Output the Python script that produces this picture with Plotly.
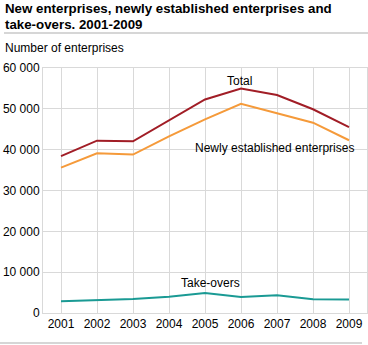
import plotly.graph_objects as go

years = [2001, 2002, 2003, 2004, 2005, 2006, 2007, 2008, 2009]
total = [38400, 42200, 42050, 47200, 52300, 55000, 53400, 49900, 45500]
newly = [35600, 39100, 38800, 43250, 47400, 51250, 48900, 46600, 42300]
takeovers = [2900, 3200, 3400, 4000, 4900, 3900, 4350, 3350, 3300]
y_ticks = [0, 10000, 20000, 30000, 40000, 50000, 60000]
y_tick_labels = ["0", "10 000", "20 000", "30 000", "40 000", "50 000", "60 000"]

W, H = 368, 345
L, R, T, B = 43, 1, 68, 32
pw, ph = W - L - R, H - T - B

def px(x):
    return (x - L) / pw

def py(y):
    return (H - B - y) / ph

FONT = "Liberation Sans, Arial, sans-serif"

fig = go.Figure()
fig.add_trace(go.Scatter(x=years, y=total, mode="lines", line=dict(color="#a11d26", width=2), name="Total"))
fig.add_trace(go.Scatter(x=years, y=newly, mode="lines", line=dict(color="#f59a3a", width=2), name="Newly established enterprises"))
fig.add_trace(go.Scatter(x=years, y=takeovers, mode="lines", line=dict(color="#1a9a94", width=2), name="Take-overs"))

annots = [
    dict(text="<b>New enterprises, newly established enterprises and</b>", x=px(3), y=py(-1), size=13.3),
    dict(text="<b>take-overs. 2001-2009</b>", x=px(3), y=py(15), size=13.3),
    dict(text="Number of enterprises", x=px(3), y=py(39), size=12),
]
for a in annots:
    fig.add_annotation(text=a["text"], x=a["x"], y=a["y"], xref="paper", yref="paper",
                       xanchor="left", yanchor="top", showarrow=False,
                       font=dict(family=FONT, size=a["size"], color="#000000"))

labels = [("Total", 2005.95, 56900),
          ("Newly established enterprises", 2006.92, 40400),
          ("Take-overs", 2005.15, 7350)]
for t, x, y in labels:
    fig.add_annotation(text=t, x=x, y=y, xref="x", yref="y", showarrow=False,
                       xanchor="center", yanchor="middle",
                       font=dict(family=FONT, size=12, color="#000000"))

fig.add_shape(type="line", xref="paper", yref="paper", x0=px(4), x1=px(368), y0=py(33), y1=py(33),
              line=dict(color="#c8c8c8", width=1.5))
fig.add_shape(type="line", xref="paper", yref="paper", x0=px(0), x1=px(362), y0=py(343), y1=py(343),
              line=dict(color="#c8c8c8", width=1.5))

fig.update_layout(
    width=W, height=H,
    margin=dict(l=L, r=R, t=T, b=B, pad=0),
    paper_bgcolor="#ffffff", plot_bgcolor="#ffffff",
    showlegend=False,
    font=dict(family=FONT, size=12, color="#000000"),
    xaxis=dict(range=[2000.5, 2009.5], tickvals=years, ticktext=[str(y) for y in years],
               showgrid=True, gridcolor="#d9d9d9", gridwidth=1, zeroline=False,
               showline=True, linecolor="#d9d9d9", mirror=True, ticks="", fixedrange=True,
               tickfont=dict(size=12)),
    yaxis=dict(range=[0, 60000], tickvals=y_ticks, ticktext=y_tick_labels,
               showgrid=True, gridcolor="#d9d9d9", gridwidth=1, zeroline=False,
               showline=True, linecolor="#d9d9d9", mirror=True, ticks="", fixedrange=True,
               tickfont=dict(size=12)),
)

fig.write_html("out.html")
